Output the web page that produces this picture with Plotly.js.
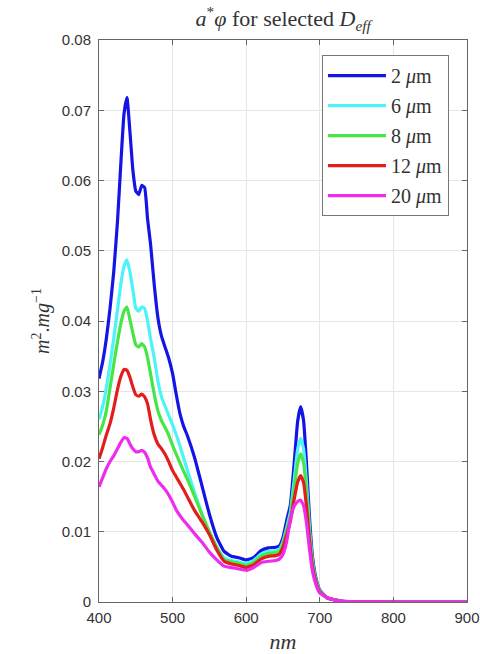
<!DOCTYPE html>
<html>
<head>
<meta charset="utf-8">
<script src="https://cdn.plot.ly/plotly-3.0.1.min.js"></script>
<style>html,body{margin:0;padding:0;background:#fff;}#chart{width:480px;height:654px;}</style>
</head>
<body>
<div id="chart"></div>
<script>
// wavelengths (nm)
const wavelength = [400,405,410,415,420,425,430,434,438,442,446,450,454,458,462,466,470,475,480,485,490,495,500,505,510,515,520,530,540,550,560,570,580,590,600,610,620,630,640,645,650,655,660,665,670,674,678,682,686,690,695,700,710,720,730,740,750,800,850,900];

const d2um = [0.0318,0.0342,0.0375,0.0418,0.0470,0.0540,0.0630,0.0695,0.0718,0.0670,0.0615,0.0585,0.0580,0.0593,0.0590,0.0545,0.0510,0.0452,0.0405,0.0378,0.0362,0.0346,0.0325,0.0295,0.0268,0.0250,0.0237,0.0205,0.0165,0.0125,0.0092,0.0072,0.0065,0.0063,0.0060,0.0063,0.0073,0.0077,0.0078,0.0080,0.0092,0.0116,0.0138,0.0195,0.0258,0.0278,0.0258,0.0195,0.0120,0.0065,0.0033,0.0017,0.0006,0.0003,0.00012,0.00005,0.00002,0,0,0];

const d6um = [0.0260,0.0278,0.0305,0.0338,0.0375,0.0415,0.0455,0.0478,0.0487,0.0470,0.0445,0.0418,0.0414,0.0420,0.0418,0.0400,0.0375,0.0348,0.0315,0.0292,0.0278,0.0265,0.0252,0.0238,0.0222,0.0205,0.0188,0.0155,0.0125,0.0098,0.0078,0.0063,0.0059,0.0057,0.0055,0.0059,0.0068,0.0072,0.0073,0.0075,0.0086,0.0106,0.0128,0.0172,0.0218,0.0233,0.0218,0.0168,0.0105,0.0058,0.0030,0.0016,0.0006,0.0003,0.0001,0.00005,0.00002,0,0,0];

const d8um = [0.0238,0.0252,0.0272,0.0305,0.0338,0.0370,0.0398,0.0414,0.0420,0.0402,0.0383,0.0366,0.0363,0.0368,0.0363,0.0348,0.0325,0.0296,0.0272,0.0258,0.0248,0.0237,0.0223,0.0210,0.0198,0.0186,0.0175,0.0150,0.0124,0.0100,0.0078,0.0060,0.0057,0.0055,0.0052,0.0056,0.0065,0.0069,0.0070,0.0072,0.0083,0.0102,0.0122,0.0160,0.0198,0.0211,0.0198,0.0155,0.0098,0.0055,0.0029,0.0015,0.0006,0.0003,0.0001,0.00005,0.00002,0,0,0];

const d12um = [0.0204,0.0220,0.0238,0.0254,0.0276,0.0302,0.0322,0.0331,0.0330,0.0320,0.0306,0.0295,0.0293,0.0296,0.0292,0.0282,0.0260,0.0238,0.0225,0.0218,0.0210,0.0199,0.0187,0.0178,0.0169,0.0160,0.0150,0.0130,0.0114,0.0096,0.0074,0.0058,0.0054,0.0052,0.0049,0.0053,0.0061,0.0065,0.0066,0.0068,0.0078,0.0096,0.0115,0.0145,0.0171,0.0180,0.0170,0.0135,0.0088,0.0050,0.0027,0.0014,0.0006,0.0003,0.0001,0.00005,0.00002,0,0,0];

const d20um = [0.0164,0.0177,0.0190,0.0200,0.0208,0.0218,0.0228,0.0234,0.0233,0.0225,0.0218,0.0214,0.0214,0.0216,0.0213,0.0205,0.0192,0.0182,0.0172,0.0166,0.0160,0.0152,0.0142,0.0131,0.0123,0.0116,0.0110,0.0097,0.0085,0.0071,0.0060,0.0051,0.0049,0.0047,0.0045,0.0049,0.0056,0.0058,0.0059,0.0061,0.0068,0.0086,0.0118,0.0136,0.0143,0.0145,0.0137,0.0112,0.0075,0.0044,0.0024,0.0013,0.0006,0.0003,0.0001,0.00005,0.00002,0,0,0];

const seriesNames = ['2 <i>μ</i>m','6 <i>μ</i>m','8 <i>μ</i>m','12 <i>μ</i>m','20 <i>μ</i>m'];
const seriesValues = [d2um, d6um, d8um, d12um, d20um];
const seriesColors = ['#1414e6','#4cf4f8','#46e646','#e41c1c','#ee2cee'];

const traces = seriesValues.map((v, i) => ({
  x: wavelength, y: v, type: 'scatter', mode: 'lines',
  name: seriesNames[i], legendgroup: 'g' + i,
  line: {color: seriesColors[i], width: 3.2, shape: 'spline', smoothing: 0.4}
}));

const axisCommon = {
  showline: true, linecolor: '#666', linewidth: 1, mirror: 'ticks',
  ticks: 'inside', ticklen: 5, tickcolor: '#666',
  showgrid: true, gridcolor: '#e6e6e6', gridwidth: 1, zeroline: false,
  tickfont: {family: 'Liberation Sans, Arial, sans-serif', size: 15, color: '#333'}
};

const layout = {
  width: 480, height: 654,
  margin: {l: 99, r: 13, t: 40, b: 52},
  paper_bgcolor: '#fff', plot_bgcolor: '#fff',
  title: {
    text: '<i>a</i><sup>*</sup><i>φ</i> for selected <i>D</i><sub><i>eff</i></sub>',
    font: {family: 'Liberation Serif, DejaVu Serif, serif', size: 22, color: '#333'},
    x: 0.59, xanchor: 'center', y: 0.972, yanchor: 'middle'
  },
  xaxis: Object.assign({}, axisCommon, {
    range: [400, 900], dtick: 100, tick0: 400,
    ticklabelstandoff: 2,
    title: {text: '<i>nm</i>', font: {family: 'Liberation Serif, DejaVu Serif, serif', size: 22, color: '#333'}, standoff: 13}
  }),
  yaxis: Object.assign({}, axisCommon, {
    range: [0, 0.08], dtick: 0.01, tick0: 0,
    ticklabelstandoff: 4,
    title: {text: '<i>m</i><sup>2</sup>.<i>mg</i><sup>−1</sup>', font: {family: 'Liberation Serif, DejaVu Serif, serif', size: 20, color: '#333'}, standoff: 6}
  }),
  legend: {
    x: 0.951, xanchor: 'right', y: 0.973, yanchor: 'top',
    bgcolor: '#fff', bordercolor: '#777', borderwidth: 1,
    font: {family: 'Liberation Serif, DejaVu Serif, serif', size: 20, color: '#333'},
    traceorder: 'grouped', tracegroupgap: 1, itemwidth: 58
  },
  showlegend: true
};

Plotly.newPlot('chart', traces, layout, {staticPlot: true, displayModeBar: false});
</script>
</body>
</html>
